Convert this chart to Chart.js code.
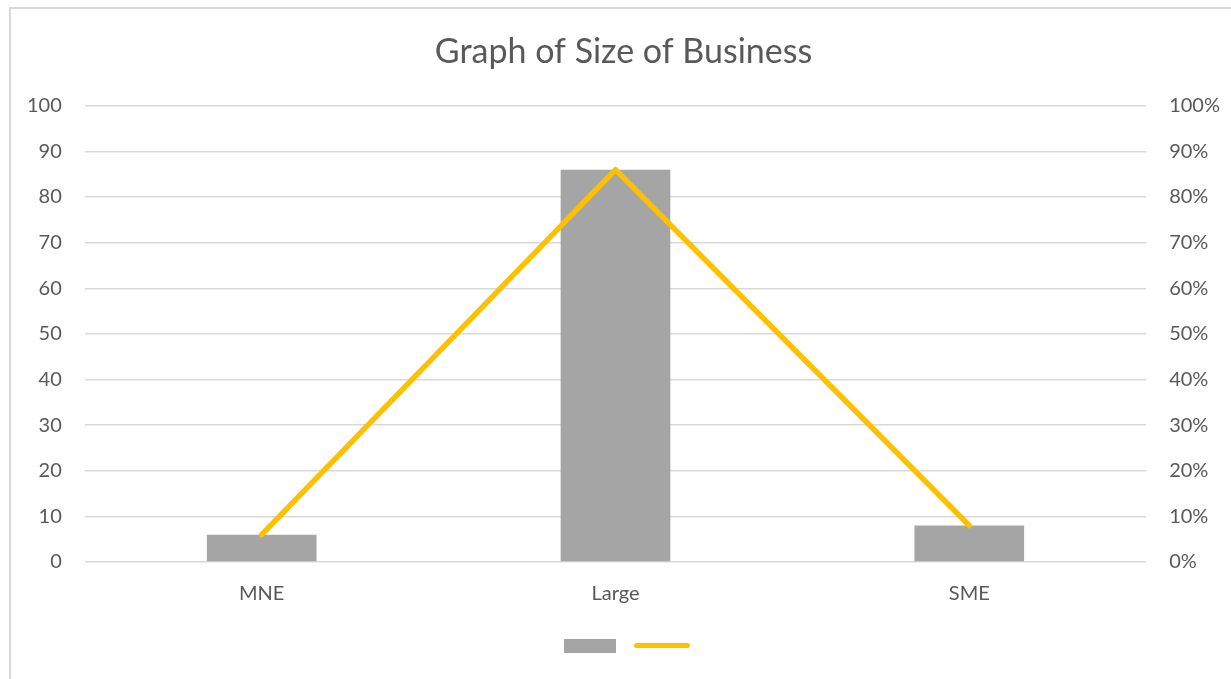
<!DOCTYPE html>
<html>
<head>
<meta charset="utf-8">
<script src="https://cdn.jsdelivr.net/npm/chart.js@4/dist/chart.umd.min.js"></script>
<style>
  html, body { margin: 0; padding: 0; background: #fff; }
  #wrap { position: relative; width: 1231px; height: 679px; overflow: hidden; }
  #frame { position: absolute; left: 9px; top: 7px; width: 1240px; height: 700px; border: 2px solid #d9d9d9; box-sizing: border-box; pointer-events: none; }
  canvas { position: absolute; left: 0; top: 0; }
  .lg-box { position: absolute; left: 564px; top: 639px; width: 52px; height: 14px; background: #A5A5A5; }
  .lg-line { position: absolute; left: 634px; top: 643px; width: 56px; height: 5px; border-radius: 3px; background: #FFC000; }
</style>
</head>
<body>
<div id="wrap">
  <canvas id="c" width="1231" height="679"></canvas>
  <div id="frame"></div>
  <div class="lg-box"></div>
  <div class="lg-line"></div>
</div>
<script>
const categories = ['MNE', 'Large', 'SME'];
const countValues = [6, 86, 8];
const percentValues = [0.06, 0.86, 0.08];
const titleText = 'Graph of Size of Business';

const FONT = 'Lato, "Open Sans", sans-serif';
const TXT = '#595959';

new Chart(document.getElementById('c'), {
  data: {
    labels: categories,
    datasets: [
      {
        type: 'line',
        data: percentValues,
        yAxisID: 'y1',
        borderColor: '#FFC000',
        borderWidth: 5.5,
        borderCapStyle: 'round',
        borderJoinStyle: 'round',
        pointRadius: 0,
        tension: 0,
        order: 0
      },
      {
        type: 'bar',
        data: countValues,
        yAxisID: 'y',
        backgroundColor: '#A5A5A5',
        categoryPercentage: 1,
        barPercentage: 0.31,
        order: 1
      }
    ]
  },
  options: {
    responsive: false,
    animation: false,
    layout: { padding: { left: 4, right: -12, top: 0, bottom: 53 } },
    plugins: {
      legend: { display: false },
      tooltip: { enabled: false },
      title: {
        display: true,
        text: titleText,
        color: TXT,
        font: { family: FONT, size: 34, weight: 'normal' },
        padding: { top: 32, bottom: 33 }
      }
    },
    scales: {
      x: {
        grid: { display: false, drawTicks: false },
        border: { display: false },
        ticks: { color: TXT, font: { family: FONT, size: 20 }, padding: 20 }
      },
      y: {
        position: 'left',
        min: 0, max: 100,
        ticks: { stepSize: 10, color: TXT, font: { family: FONT, size: 20 }, padding: 23 },
        grid: { color: '#d9d9d9', lineWidth: 1.5, drawTicks: false },
        border: { display: false }
      },
      y1: {
        position: 'right',
        min: 0, max: 1,
        ticks: {
          stepSize: 0.1, color: TXT, font: { family: FONT, size: 20 }, padding: 23,
          callback: v => Math.round(v * 100) + '%'
        },
        grid: { display: false, drawTicks: false },
        border: { display: false }
      }
    }
  }
});
</script>
</body>
</html>
